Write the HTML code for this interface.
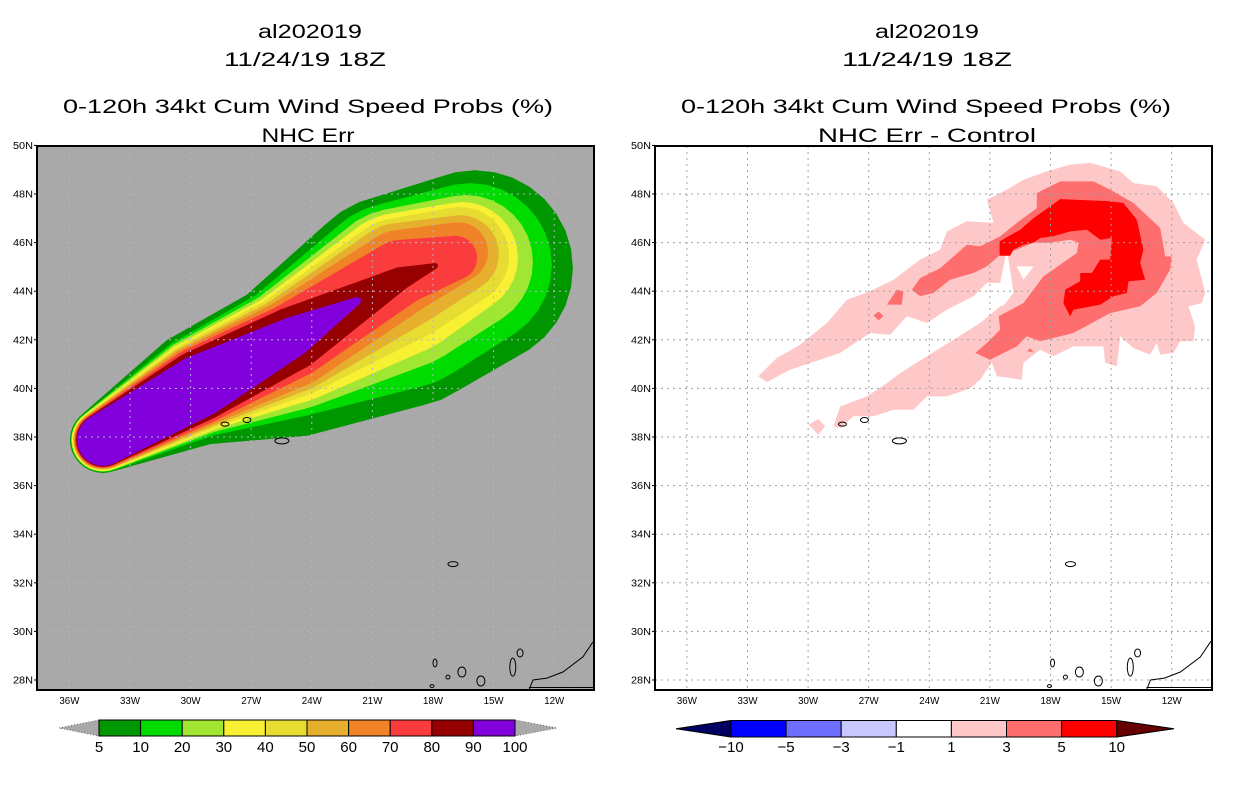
<!DOCTYPE html>
<html><head><meta charset="utf-8"><style>
html,body{margin:0;padding:0;background:#fff;}
svg{display:block;font-family:"Liberation Sans",sans-serif;}
</style></head><body>
<svg id="fig" width="1236" height="800" viewBox="0 0 1236 800" xmlns="http://www.w3.org/2000/svg">
<defs>
<clipPath id="clipL"><rect x="37" y="146" width="557" height="544"/></clipPath>
<clipPath id="clipR"><rect x="655" y="146" width="557" height="544"/></clipPath>
</defs>
<rect x="0" y="0" width="1236" height="800" fill="#fff"/>
<g font-size="19" text-anchor="middle" fill="#000">
<text x="310" y="38" textLength="104" lengthAdjust="spacingAndGlyphs">al202019</text>
<text x="305" y="66" textLength="162" lengthAdjust="spacingAndGlyphs">11/24/19 18Z</text>
<text x="308" y="113" textLength="490" lengthAdjust="spacingAndGlyphs">0-120h 34kt Cum Wind Speed Probs (%)</text>
<text x="308" y="142" textLength="93" lengthAdjust="spacingAndGlyphs">NHC Err</text>
</g>
<g font-size="19" text-anchor="middle" fill="#000">
<text x="927" y="38" textLength="104" lengthAdjust="spacingAndGlyphs">al202019</text>
<text x="927" y="66" textLength="170" lengthAdjust="spacingAndGlyphs">11/24/19 18Z</text>
<text x="926" y="113" textLength="490" lengthAdjust="spacingAndGlyphs">0-120h 34kt Cum Wind Speed Probs (%)</text>
<text x="927" y="142" textLength="218" lengthAdjust="spacingAndGlyphs">NHC Err - Control</text>
</g>
<g id="leftMap"></g>
<g id="rightMap"></g>
<g id="cbars"></g>
</svg>
<script>
// ---- axis data ----
const lonTicks = [36, 33, 30, 27, 24, 21, 18, 15, 12];
const latTicks = [50, 48, 46, 44, 42, 40, 38, 36, 34, 32, 30, 28];
// ---- left panel: probability contour levels (%) ----
const probLevels = [5, 10, 20, 30, 40, 50, 60, 70, 80, 90];
const probColors = ["#009600", "#00dc00", "#a0e632", "#f8f032", "#e6dc32", "#e6af2d", "#f08228", "#fa3c3c", "#960000", "#8200dc"];
// circles along the track per level: [lon W, lat, radius (deg lat)]
const plume5 = [[34.34,37.88,1.36],[29.54,40.04,2.37],[24.93,41.23,3.23],[19.63,43.60,4.40],[15.92,44.95,4.03]];
const plume10 = [[34.34,37.88,1.32],[29.54,40.10,2.10],[24.93,41.56,2.74],[19.63,43.82,3.85],[16.17,45.08,3.37]];
const plume20 = [[34.34,37.88,1.30],[29.54,40.12,2.00],[24.93,41.64,2.53],[19.63,44.11,3.31],[16.37,45.20,2.76]];
const plume30 = [[34.34,37.88,1.28],[29.54,40.12,1.91],[24.93,41.72,2.33],[19.63,44.30,2.92],[16.56,45.37,2.30]];
const plume40 = [[34.34,37.88,1.23],[29.54,40.12,1.83],[24.93,41.79,2.14],[19.63,44.46,2.55],[16.66,45.45,2.02]];
const plume50 = [[34.34,37.88,1.21],[29.54,40.12,1.75],[24.93,41.83,1.98],[19.63,44.63,2.18],[16.66,45.53,1.60]];
const plume60 = [[34.34,37.88,1.19],[29.54,40.12,1.67],[24.93,41.87,1.81],[19.63,44.77,1.75],[16.76,45.61,1.23]];
const plume70 = [[34.34,37.88,1.15],[29.54,40.12,1.58],[24.93,41.97,1.54],[19.63,44.77,1.34],[16.91,45.37,0.91]];
const plume80 = [[34.34,37.88,1.11],[29.54,40.12,1.46],[24.93,42.05,1.30],[19.63,44.52,0.47],[17.90,45.04,0.12]];
const plume90 = [[34.34,37.88,1.07],[29.54,40.10,1.28],[24.93,42.12,0.82],[21.76,43.60,0.16]];
const plumes = [plume5, plume10, plume20, plume30, plume40, plume50, plume60, plume70, plume80, plume90];
// ---- right panel: difference contours ----
const diffLevels = [1, 3, 5];
const diffColors = ["#ffc8c8", "#ff6e6e", "#ff0000"];
const diffLon1a = [32.46,31.55,30.39,29.07,28.08,26.93,25.77,24.45,23.46,23.13,22.14,20.82,20.16,20.49,21.15,21.81,23.13,24.12,25.11,25.94,26.93,28.41,29.40,30.89,32.04];
const diffLat1a = [40.50,41.25,41.80,42.69,43.65,44.00,44.47,45.30,45.71,46.46,46.88,46.81,45.71,44.34,44.34,43.79,43.24,42.69,42.97,42.21,42.28,41.46,41.18,40.77,40.26];
const diffLon1b = [28.74,28.41,27.09,26.10,25.44,24.12,22.80,21.48,20.49,19.34,19.17,20.49,21.48,21.98,23.13,24.12,24.78,25.77,26.76,27.75,28.41];
const diffLat1b = [38.44,39.26,39.67,40.22,40.63,41.32,42.00,42.69,43.38,43.65,42.14,41.59,40.36,40.00,39.67,39.67,39.12,39.12,38.85,38.85,38.37];
const diffLon1c = [21.15,20.16,19.34,18.18,17.03,16.04,14.55,13.89,12.74,11.91,11.42,10.34,10.76,10.34,10.51,11.17,10.84,10.92,11.58,11.91,12.57,12.74,13.07,13.89,14.55,14.72,15.29,15.38,16.86,17.85,18.51,19.34,19.42,20.66,21.15,20.49,19.83,20.16,20.82];
const diffLat1c = [47.77,48.18,48.59,48.93,49.21,49.28,48.93,48.45,48.32,47.63,46.81,46.12,45.30,43.93,43.51,43.38,42.55,41.94,41.94,41.46,41.39,41.87,41.39,41.66,42.14,40.91,41.05,41.73,41.73,41.32,41.59,41.05,40.36,40.50,41.59,43.24,43.93,45.71,46.81];
const diffLon1d = [29.98,29.49,29.16,29.49];
const diffLat1d = [38.51,38.74,38.44,38.10];
const holeLon = [19.67,18.84,19.34];
const holeLat = [45.02,45.02,44.47];
const diffLon3a = [24.86,24.45,23.46,22.14,21.48,20.49,19.67,18.68,18.68,17.52,15.87,15.05,13.89,12.57,12.32,12.00,12.08,12.74,13.56,15.05,16.86,18.51,19.17,19.67,20.99,21.73,21.15,20.49,20.57,19.34,18.35,16.70,16.61,17.03,18.02,18.84,19.67,20.49,21.15,21.81,22.97,23.79,24.45];
const diffLat3a = [44.06,44.54,44.95,45.91,45.85,46.26,46.81,47.42,48.04,48.52,48.52,48.18,47.63,46.60,45.43,45.43,44.89,43.93,43.38,43.10,42.28,41.94,42.14,41.73,41.18,41.46,41.87,42.42,42.97,43.51,44.61,45.57,46.00,46.12,46.00,46.00,45.71,45.50,45.02,44.75,44.47,43.93,43.79];
const diffLon3b = [26.10,25.61,25.28,25.36];
const diffLat3b = [43.45,44.06,43.99,43.45];
const diffLon3c = [26.76,26.51,26.27,26.51];
const diffLat3c = [43.00,43.17,42.97,42.80];
const diffLon3d = [19.17,19.01,18.84];
const diffLat3d = [41.53,41.66,41.48];
const diffLon5a = [20.52,19.50,18.84,18.02,17.52,15.05,14.39,13.73,13.40,13.56,13.31,14.14,14.22,14.88,15.54,16.86,17.03,17.36,17.27,16.53,16.53,15.95,15.54,15.05,14.96,15.54,16.20,17.03,17.85,18.51,18.84,19.34,19.83,20.00,20.52];
const diffLat5a = [46.05,46.53,47.01,47.49,47.79,47.70,47.63,46.94,45.71,45.16,44.47,44.41,43.93,43.79,43.45,43.24,42.97,43.51,44.06,44.41,44.75,44.75,45.30,45.30,46.19,46.12,46.53,46.46,46.26,46.19,46.00,45.91,45.71,45.46,45.46];
// ---- coastline features ----
const islandLon = [28.30, 27.21, 25.48, 17.01, 17.90, 17.26, 16.57, 15.63, 14.05, 13.69, 18.05];
const islandLat = [38.53, 38.70, 37.84, 32.77, 28.70, 28.12, 28.33, 27.96, 28.53, 29.11, 27.75];
const islandRx = [4, 4, 7, 5, 2, 2, 4, 4, 3, 3, 2];
const islandRy = [2, 2.5, 3, 2.5, 4, 2, 5, 5, 9, 4, 1.5];
const coastLon = [13.25, 13.05, 12.36, 11.57, 10.58, 10.12, 9.6];
const coastLat = [27.59, 28.00, 28.08, 28.33, 28.95, 29.52, 30.0];
// ---- colorbars ----
const probBarLabels = ["5","10","20","30","40","50","60","70","80","90","100"];
const diffBarLabels = ["-10","-5","-3","-1","1","3","5","10"];
const diffBarColors = ["#0000ff","#6e6eff","#c8c8ff","#ffffff","#ffc8c8","#ff6e6e","#ff0000"];

const NS = "http://www.w3.org/2000/svg";
const OFF_L = 0, OFF_R = 617.5;
function X(lonW, off){ return off + 69.4 + (36 - lonW) * 20.2; }
function Y(lat){ return 194 + (48 - lat) * 24.3; }
function R(rDeg){ return rDeg * 24.3; }
function mk(tag, attrs, parent){
  const e = document.createElementNS(NS, tag);
  for (const k in attrs) e.setAttribute(k, attrs[k]);
  parent.appendChild(e); return e;
}
function hull(pts){
  pts.sort((a,b)=>a[0]-b[0]||a[1]-b[1]);
  const cr=(o,a,b)=>(a[0]-o[0])*(b[1]-o[1])-(a[1]-o[1])*(b[0]-o[0]);
  const lo=[],up=[];
  for(const p of pts){ while(lo.length>=2&&cr(lo[lo.length-2],lo[lo.length-1],p)<=0) lo.pop(); lo.push(p); }
  for(let i=pts.length-1;i>=0;i--){ const p=pts[i]; while(up.length>=2&&cr(up[up.length-2],up[up.length-1],p)<=0) up.pop(); up.push(p); }
  up.pop(); lo.pop(); return lo.concat(up);
}
function capsule(c1, c2, off){
  const pts=[];
  for (const c of [c1,c2]){
    const cx=X(c[0],off), cy=Y(c[1]), r=R(c[2]);
    for(let i=0;i<32;i++){ const a=i*Math.PI/16; pts.push([cx+r*Math.cos(a), cy+r*Math.sin(a)]); }
  }
  return hull(pts).map(p=>p[0].toFixed(1)+","+p[1].toFixed(1)).join(" ");
}
function polyPts(lons, lats, off){
  return lons.map((l,i)=>X(l,off).toFixed(1)+","+Y(lats[i]).toFixed(1)).join(" ");
}

function drawFrameAndAxes(g, off, fx, gridColor){
  const grid = mk("g", {"stroke": gridColor, "stroke-width": 1, "stroke-dasharray": "2,4", "fill": "none"}, g);
  
  
  lonTicks.forEach(l=>{
    const ln = mk("line", {x1: X(l,off), x2: X(l,off), y1: 146, y2: 690}, grid);
    
    
  });
  latTicks.forEach(l=>{
    if (l===50) return;
    const ln = mk("line", {x1: fx, x2: fx+557, y1: Y(l), y2: Y(l)}, grid);
    
    
  });
  // coastline
  const coast = mk("g", {"stroke": "#000", "stroke-width": 1, "fill": "none"}, g);
  
  
  islandLon.forEach((l,i)=>{
    const e = mk("ellipse", {cx: X(l,off), cy: Y(islandLat[i]), rx: islandRx[i], ry: islandRy[i]}, coast);
    
    
  });
  const cl = mk("polyline", {points: polyPts(coastLon, coastLat, off)}, coast);
  
  
  const bl = mk("line", {x1: X(coastLon[0],off), x2: fx+557, y1: 687.5, y2: 687.5}, coast);
  
  
  // frame
  const fr = mk("rect", {x: fx, y: 146, width: 557, height: 544, fill: "none", stroke: "#000", "stroke-width": 2}, g.parentNode);
  
  
  const ax = mk("g", {"font-size": 10, fill: "#000"}, g.parentNode);
  
  
  latTicks.forEach(l=>{
    const t = mk("text", {x: fx-4, y: Y(l)+3.5, "text-anchor": "end", textLength: 20, lengthAdjust: "spacingAndGlyphs"}, ax);
    t.textContent = l + "N";
    
    
    const tk = mk("line", {x1: fx-3, x2: fx, y1: Y(l), y2: Y(l), stroke: "#000"}, ax);
    
    
  });
  lonTicks.forEach(l=>{
    const t = mk("text", {x: X(l,off), y: 704, "text-anchor": "middle", textLength: 20, lengthAdjust: "spacingAndGlyphs"}, ax);
    t.textContent = l + "W";
    
    
  });
}

// LEFT PANEL
const L = document.getElementById("leftMap");
const Lc = mk("g", {"clip-path": "url(#clipL)"}, L);


const bgL = mk("rect", {x: 37, y: 146, width: 557, height: 544, fill: "#a9a9a9"}, Lc);


plumes.forEach((circ, li)=>{
  const g = mk("g", {fill: probColors[li]}, Lc);
  
  
  for (let i=0;i<circ.length-1;i++){
    const p = mk("polygon", {points: capsule(circ[i], circ[i+1], OFF_L)}, g);
    
    
  }
});
drawFrameAndAxes(Lc, OFF_L, 37, "#b4b4c8");

// RIGHT PANEL
const Rg = document.getElementById("rightMap");
const Rc = mk("g", {"clip-path": "url(#clipR)"}, Rg);


const bgR = mk("rect", {x: 655, y: 146, width: 557, height: 544, fill: "#fff"}, Rc);


function diffPoly(lons, lats, color, name){
  const p = mk("polygon", {points: polyPts(lons, lats, OFF_R), fill: color}, Rc);
  
  
}
diffPoly(diffLon1a, diffLat1a, diffColors[0], 'diff-1-upper-arm');
diffPoly(diffLon1b, diffLat1b, diffColors[0], 'diff-1-lower-arm');
diffPoly(diffLon1c, diffLat1c, diffColors[0], 'diff-1-main');
diffPoly(diffLon1d, diffLat1d, diffColors[0], 'diff-1-patch');
diffPoly(holeLon, holeLat, "#ffffff", 'diff-hole');
diffPoly(diffLon3a, diffLat3a, diffColors[1], 'diff-3-main');
diffPoly(diffLon3b, diffLat3b, diffColors[1], 'diff-3-patch');
diffPoly(diffLon3c, diffLat3c, diffColors[1], 'diff-3-patch');
diffPoly(diffLon3d, diffLat3d, diffColors[1], 'diff-3-patch');
diffPoly(diffLon5a, diffLat5a, diffColors[2], 'diff-5-main');
drawFrameAndAxes(Rc, OFF_R, 655, "#a0a0a0");

// COLORBARS
const CB = document.getElementById("cbars");
(function(){
  const x0 = 99, w = 41.6, y0 = 720, h = 16;
  const g = mk("g", {}, CB);
  
  
  const t1 = mk("polygon", {points: `${x0},${y0} ${x0},${y0+h} 59,${y0+h/2}`, fill: "#a9a9a9", stroke: "#666", "stroke-dasharray": "1,2"}, g);
  
  
  const xe = x0 + w*probColors.length;
  const t2 = mk("polygon", {points: `${xe},${y0} ${xe},${y0+h} ${xe+42},${y0+h/2}`, fill: "#a9a9a9", stroke: "#666", "stroke-dasharray": "1,2"}, g);
  
  
  probColors.forEach((c,i)=>{
    const r = mk("rect", {x: x0+i*w, y: y0, width: w, height: h, fill: c, stroke: "#000", "stroke-width": 1}, g);
    
    
  });
  probBarLabels.forEach((s,i)=>{
    const t = mk("text", {x: x0+i*w, y: 752, "font-size": 15, "text-anchor": "middle"}, g);
    t.textContent = s;
    
    
  });
})();
(function(){
  const x0 = 731, w = 55.1, y0 = 720.5, h = 16.5;
  const g = mk("g", {}, CB);
  
  
  const t1 = mk("polygon", {points: `${x0},${y0} ${x0},${y0+h} 676,${y0+h/2}`, fill: "#000064", stroke: "#000"}, g);
  
  
  const xe = x0 + w*diffBarColors.length;
  const t2 = mk("polygon", {points: `${xe},${y0} ${xe},${y0+h} 1174,${y0+h/2}`, fill: "#640000", stroke: "#000"}, g);
  
  
  diffBarColors.forEach((c,i)=>{
    const r = mk("rect", {x: x0+i*w, y: y0, width: w, height: h, fill: c, stroke: "#000", "stroke-width": 1}, g);
    
    
  });
  diffBarLabels.forEach((s,i)=>{
    const t = mk("text", {x: x0+i*w, y: 752, "font-size": 15, "text-anchor": "middle"}, g);
    t.textContent = s.replace("-", "\u2212");
    
    
  });
})();
</script>
</body></html>
